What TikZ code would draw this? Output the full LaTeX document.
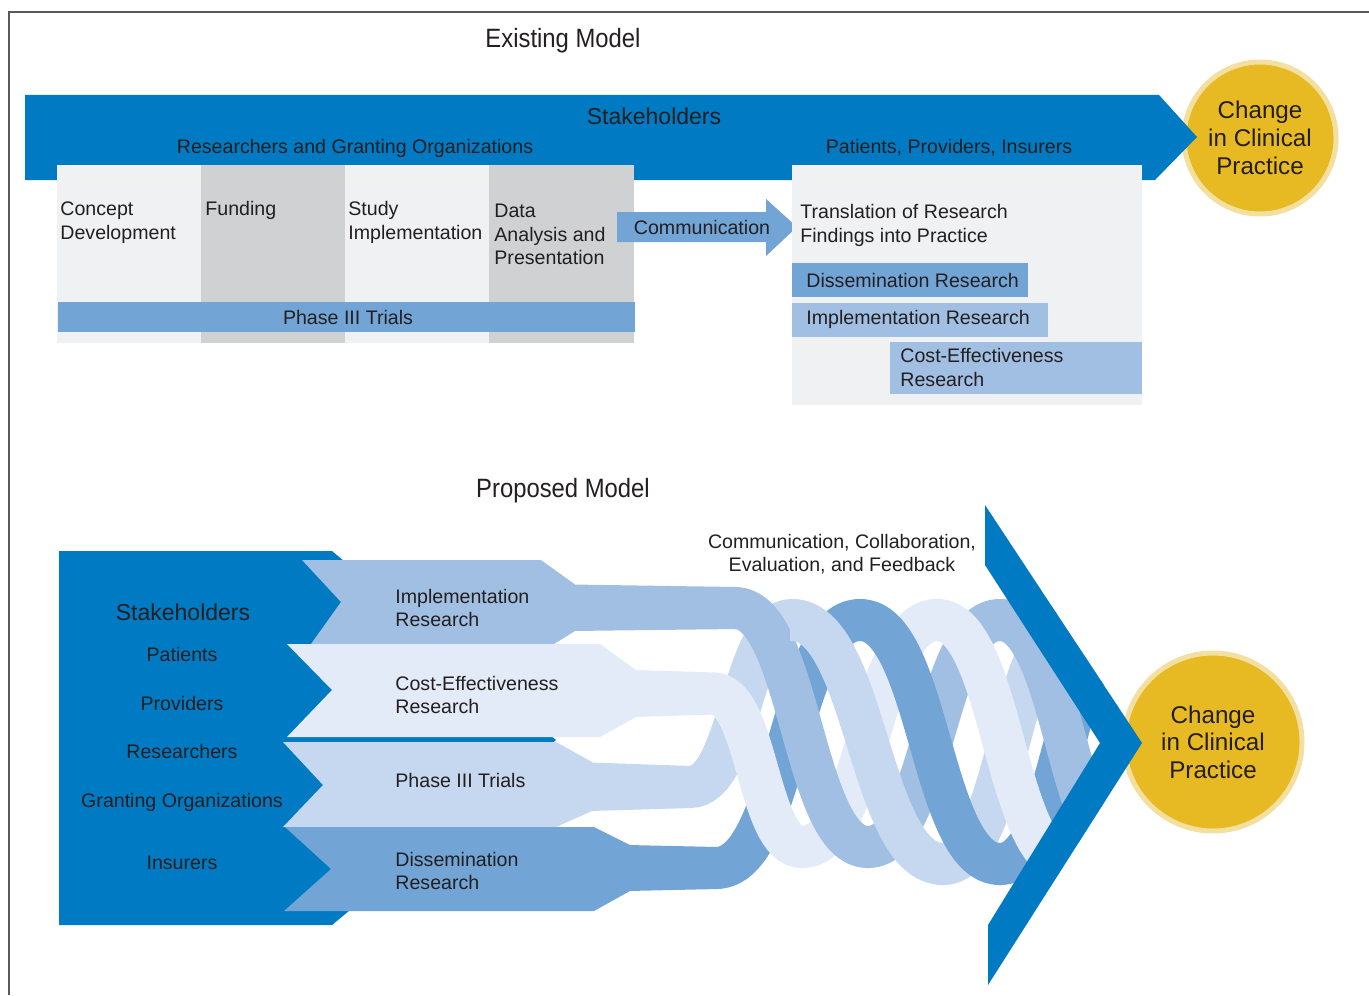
\documentclass[tikz,border=0pt]{standalone}
\usepackage{fontspec}
\setmainfont{Liberation Sans}
\newfontfamily\headfont[FakeStretch=0.9]{Liberation Sans}
\usetikzlibrary{positioning}
\definecolor{darkblue}{HTML}{007AC2}
\definecolor{midblue}{HTML}{72A4D6}
\definecolor{softblue}{HTML}{A1BFE2}
\definecolor{paleblue}{HTML}{C5D8EF}
\definecolor{iceblue}{HTML}{E2EBF7}
\definecolor{lightgrey}{HTML}{F0F1F3}
\definecolor{midgrey}{HTML}{D0D1D3}
\definecolor{goalgold}{HTML}{E7B922}
\definecolor{goalring}{HTML}{F3DFA0}
\definecolor{ink}{HTML}{231F20}
\tikzset{
  txt/.style={text=ink, inner sep=0pt, font=\fontsize{9.8}{11.75}\selectfont},
  lefttxt/.style={txt, anchor=west, align=left},
  midtxt/.style={txt, align=center},
  heading/.style={text=ink, inner sep=0pt, font=\headfont\fontsize{13.25}{15}\selectfont},
  bigtxt/.style={text=ink, inner sep=0pt, font=\fontsize{11.5}{13}\selectfont},
  goal/.style={circle, fill=goalgold, draw=goalring, line width=2.5pt, inner sep=0pt,
    align=center, text=ink, font=\fontsize{12.1}{14}\selectfont},
  twist/.style={line width=21pt}
}

\begin{document}
\begin{tikzpicture}[x=0.5pt, y=-0.5pt]
\useasboundingbox (0,0) rectangle (1369,995);
\draw[black!65, line width=0.75pt] (9,995) -- (9,12) -- (1369,12);

% existing model
\node[heading] (existing) at (563,41) {Existing Model};
\node[goal, minimum size=76pt] (goaltop) at (1260,138) {Change\\in Clinical\\Practice};
\fill[darkblue] (25,95) -- (1159,95) -- (1197,137) -- (1155,180) -- (25,180) -- cycle;
\node[bigtxt] (stakestop) at (654,116) {Stakeholders};
\node[txt] (researchers) at (355,148) {Researchers and Granting Organizations};
\node[txt] (patients) at (949,148) {Patients, Providers, Insurers};
\foreach \x/\c in {57/lightgrey,201/midgrey,345/lightgrey,489/midgrey}
  \fill[\c] (\x,165) rectangle +(145,178);
\fill[midblue] (58,302) rectangle (635,332);
\node[txt] (phasebar) at (348,317) {Phase III Trials};
\node[lefttxt] (concept) at (60,222.5) {Concept\\Development};
\node[lefttxt] (funding) at (205,210) {Funding};
\node[lefttxt] (study) at (348,222.5) {Study\\Implementation};
\node[lefttxt] (data) at (494,234.5) {Data\\Analysis and\\Presentation};
\fill[midblue] (617,212) -- (766,212) -- (766,199) -- (797,227) -- (766,256) -- (766,242) -- (617,242) -- cycle;
\node[txt] (comm) at (702,227) {Communication};
\fill[lightgrey] (792,165) rectangle (1142,405);
\node[lefttxt] (translation) at (800,225.5) {Translation of Research\\Findings into Practice};
\fill[midblue] (792,263) rectangle (1028,297);
\node[lefttxt] (dissbox) at (806,280) {Dissemination Research};
\fill[softblue] (792,303) rectangle (1048,337);
\node[lefttxt] (implbox) at (806,319) {Implementation Research};
\fill[softblue] (890,342) rectangle (1142,394);
\node[lefttxt] (costbox) at (900,367.5) {Cost-Effectiveness\\Research};

% proposed model
\node[heading] (proposed) at (563,491) {Proposed Model};
\fill[darkblue] (59,551) -- (332,551) -- (556,740) -- (332,925) -- (59,925) -- cycle;
\fill[softblue] (302,560) -- (541,560) -- (575,584.5) -- (575,631) -- (554,644) -- (311,644) -- (341,602) -- cycle;
\fill[iceblue] (287,644) -- (600,644) -- (636,670) -- (636,717) -- (600,737) -- (287,737) -- (332,690) -- cycle;
\fill[paleblue] (283,742) -- (556,742) -- (592,762) -- (592,811) -- (556,827) -- (283,827) -- (323,785) -- cycle;
\fill[midblue] (285,827) -- (594,827) -- (630,845) -- (630,891) -- (594,911) -- (284,911) -- (331,869) -- cycle;
\node[goal, minimum size=89pt, font=\fontsize{12.1}{13.75}\selectfont] (goalbottom) at (1213,742) {Change\\in Clinical\\Practice};
\begin{scope}
\clip (560,480) -- (985,480) -- (985,505) -- (1142,743) -- (988,985) -- (560,985) -- cycle;
% straight lead-ins, narrowing slightly
\fill[softblue] (572,584.5) -- (737,587) -- (737,629) -- (572,631) -- cycle;
\fill[iceblue] (634,670) -- (715,672.5) -- (715,714.5) -- (634,717) -- cycle;
\fill[paleblue] (590,762.5) -- (692,766) -- (692,808) -- (590,811) -- cycle;
\fill[midblue] (628,845) -- (718,847) -- (718,889) -- (628,891) -- cycle;
% rising parts underneath
\draw[twist, paleblue] (690,787) .. controls +(51,0) and +(-51,0) .. (792,620) -- (794,620);
\draw[twist, midblue] (716,868) .. controls +(72,0) and +(-72,0) .. (860,620) -- (862,620);
\draw[twist, softblue] (866,847) -- (868,847) .. controls +(66,0) and +(-66,0) .. (1000,620) -- (1002,620);
\draw[twist, iceblue] (800,847) -- (802,847) .. controls +(67,0) and +(-67,0) .. (937,620) -- (939,620);
\draw[twist, paleblue] (941,864) -- (943,864) .. controls +(66,0) and +(-66,0) .. (1075,620);
\draw[twist, midblue] (998,864) -- (1000,864) .. controls +(65,0) and +(-65,0) .. (1130,620);
% falling parts on top
\draw[twist, softblue] (735,608) .. controls +(66,0) and +(-66,0) .. (868,847) -- (870,847);
\draw[twist, iceblue] (713,693.5) .. controls +(45,0) and +(-45,0) .. (802,847) -- (804,847);
\draw[twist, paleblue] (790,620) -- (792,620) .. controls +(75,0) and +(-75,0) .. (943,864) -- (945,864);
\draw[twist, midblue] (858,620) -- (860,620) .. controls +(70,0) and +(-70,0) .. (1000,864) -- (1002,864);
\draw[twist, softblue] (998,620) -- (1000,620) .. controls +(66,0) and +(-66,0) .. (1132,864);
\draw[twist, iceblue] (935,620) -- (937,620) .. controls +(66,0) and +(-66,0) .. (1070,864);
\end{scope}
\fill[darkblue] (985,505) -- (1142,743) -- (988,985) -- (988,925) -- (1100,743) -- (985,565) -- cycle;
\node[midtxt] (feedback) at (842,554) {Communication, Collaboration,\\Evaluation, and Feedback};
\node[bigtxt] (stakesbottom) at (183,612) {Stakeholders};
\foreach \n/\y/\t in {pat/654/Patients, prov/703/Providers, res/751/Researchers, grant/802/Granting Organizations, ins/863/Insurers}
  \node[txt] (\n) at (182,\y) {\t};
\node[lefttxt] (impl) at (395,608) {Implementation\\Research};
\node[lefttxt] (cost) at (395,695) {Cost-Effectiveness\\Research};
\node[lefttxt] (phase) at (395,780) {Phase III Trials};
\node[lefttxt] (diss) at (395,871) {Dissemination\\Research};
\end{tikzpicture}
\end{document}
